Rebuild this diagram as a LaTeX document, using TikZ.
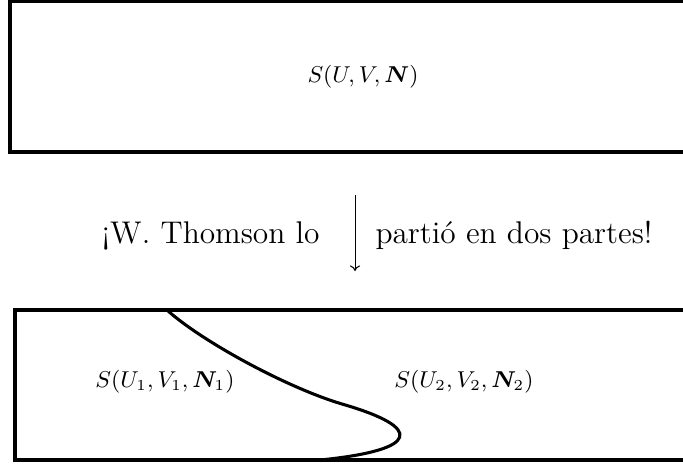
\documentclass[tikz,border=0pt]{standalone}
\usepackage{amsmath}
\usepackage{bm}
\usetikzlibrary{arrows.meta}
\begin{document}
\begin{tikzpicture}[x=0.392pt,y=-0.392pt,
  box/.style={line width=1.2pt},
  cut/.style={line width=1.2pt},
  lab/.style={font=\fontsize{8.7}{10}\selectfont, inner sep=0pt},
  big/.style={font=\fontsize{12.3}{14}\selectfont, inner sep=0pt, anchor=base}]
\useasboundingbox (0,0) rectangle (683,464);
\begin{scope}
\clip (0,0) rectangle (683,464);
\draw[box] (10,1.5) rectangle (716,152);
\draw[box] (15,310) rectangle (716,460);
\draw[cut] (167,310) .. controls (200,340) and (285,387) .. (342,404)
  .. controls (425,428) and (420,450) .. (320,460);
\end{scope}
\node[lab] (top) at (363,77) {$S(U,V,\bm{N})$};
\node[lab] (one) at (165,382) {$S(U_1,V_1,\bm{N}_1)$};
\node[lab] (two) at (464,382) {$S(U_2,V_2,\bm{N}_2)$};
\coordinate (a) at (355,195);
\coordinate (b) at (355,271);
\draw[-{To[length=2.2pt,width=4pt]}, line width=0.4pt] (a) -- (b);
\node[big, anchor=base east] (l) at (320,243) {¡W. Thomson lo};
\node[big, anchor=base west] (r) at (375,243) {partió en dos partes!};
\end{tikzpicture}
\end{document}
